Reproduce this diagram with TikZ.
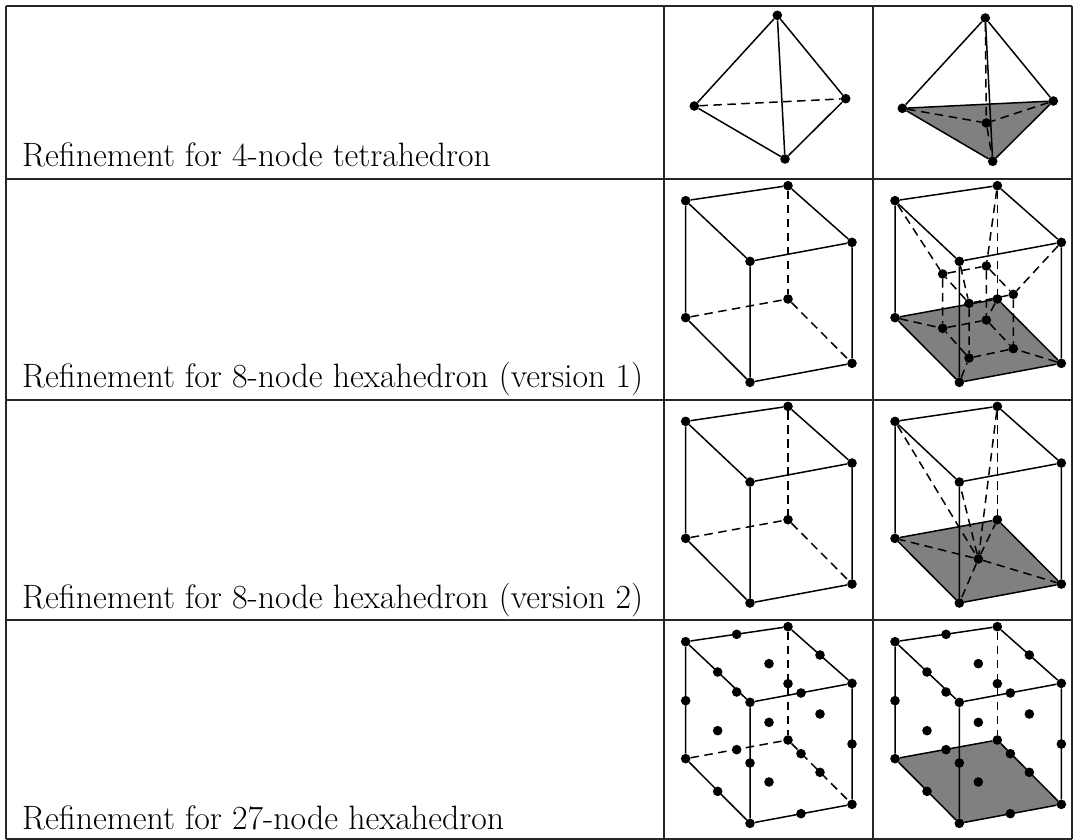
\documentclass[tikz,border=0pt]{standalone}
\usepackage{fontspec}
\usetikzlibrary{backgrounds}
\tikzset{
  dot/.style={circle,fill=black,inner sep=0pt,minimum size=9.6pt},
  edge/.style={line width=1.5pt,black},
  hid/.style={line width=1.5pt,black,dash pattern=on 8.5pt off 5.5pt},
  rule/.style={line width=1.2pt,black!85},
  face/.style={fill=black!50},
  lab/.style={anchor=base west,inner sep=0pt,font=\fontsize{33.8}{38}\selectfont}
}
\newcommand{\cubenodes}[1]{%
  \node[dot] (#1A) at (25.67,30.67) {};
  \node[dot] (#1B) at (128,15.67) {};
  \node[dot] (#1C) at (192,72.33) {};
  \node[dot] (#1D) at (90,91.33) {};
  \node[dot] (#1E) at (25.67,147.67) {};
  \node[dot] (#1F) at (128,129) {};
  \node[dot] (#1G) at (192,193.33) {};
  \node[dot] (#1H) at (90,212.33) {};
}
\newcommand{\cubeedges}[1]{%
  \draw[edge] (#1A)--(#1B) (#1B)--(#1C) (#1C)--(#1D) (#1D)--(#1A)
              (#1A)--(#1E) (#1C)--(#1G) (#1D)--(#1H) (#1E)--(#1H) (#1H)--(#1G);
  \draw[hid] (#1B)--(#1F);
}
\newcommand{\cubeplain}[1]{%
  \cubenodes{#1}\cubeedges{#1}
  \draw[hid] (#1E)--(#1F) (#1F)--(#1G);
}
\newcommand{\cubegrey}[1]{%
  \cubenodes{#1}
  \begin{pgfonlayer}{background}
    \fill[face] (#1E.center)--(#1F.center)--(#1G.center)--(#1H.center)--cycle;
  \end{pgfonlayer}
  \cubeedges{#1}
  \draw[edge] (#1E)--(#1F) (#1F)--(#1G);
}
\newcommand{\extradots}[1]{%
  \foreach \n/\x/\y in {a/230/73,b/480/135,c/327/161,d/173/186,e/230/246,f/423/249,g/384/221,
    h/77/272,i/327/337,j/480/312,k/173/362,l/576/402,m/230/419,n/423/431,o/270/459,p/480/487,
    q/327/516,r/173/544,s/423/611}
    {\node[dot] (#1\n) at ({\x/3},{\y/3-1}) {};}
}
\begin{document}
\begin{tikzpicture}[x=1pt,y=-1pt]
\useasboundingbox (0,0) rectangle (1073,840);
\begin{pgfonlayer}{background}
  \fill[white] (0,0) rectangle (1073,840);
\end{pgfonlayer}
% table
\coordinate (tl) at (6,6); \coordinate (tr) at (1072,6);
\coordinate (r1l) at (6,179); \coordinate (r1r) at (1072,179);
\coordinate (r2l) at (6,400); \coordinate (r2r) at (1072,400);
\coordinate (r3l) at (6,620); \coordinate (r3r) at (1072,620);
\coordinate (bl) at (6,839); \coordinate (br) at (1072,839);
\coordinate (c1t) at (664,6); \coordinate (c1b) at (664,839);
\coordinate (c2t) at (873,6); \coordinate (c2b) at (873,839);
\draw[rule] (tl)--(tr) (r1l)--(r1r) (r2l)--(r2r) (r3l)--(r3r) (bl)--(br)
  (tl)--(bl) (tr)--(br) (c1t)--(c1b) (c2t)--(c2b);
% labels
\node[lab] (l1) at (22,166) {Refinement for 4-node tetrahedron};
\node[lab] (l2) at (22,387) {Refinement for 8-node hexahedron (version 1)};
\node[lab] (l3) at (22,608) {Refinement for 8-node hexahedron (version 2)};
\node[lab] (l4) at (22,829) {Refinement for 27-node hexahedron};
% tetra 1
\node[dot] (t1T) at (777.3,15.3) {};
\node[dot] (t1L) at (694.3,106) {};
\node[dot] (t1R) at (845.7,98.7) {};
\node[dot] (t1B) at (785,159) {};
\draw[edge] (t1T)--(t1L) (t1T)--(t1R) (t1T)--(t1B) (t1L)--(t1B) (t1R)--(t1B);
\draw[hid] (t1L)--(t1R);
% tetra 2
\node[dot] (t2T) at (985.3,18) {};
\node[dot] (t2L) at (902.3,108.3) {};
\node[dot] (t2R) at (1053.3,101) {};
\node[dot] (t2B) at (992.7,161.3) {};
\node[dot] (t2C) at (986.3,123) {};
\begin{pgfonlayer}{background}
  \fill[face] (t2L.center)--(t2R.center)--(t2B.center)--cycle;
\end{pgfonlayer}
\draw[edge] (t2T)--(t2L) (t2T)--(t2R) (t2T)--(t2B) (t2L)--(t2B) (t2R)--(t2B) (t2L)--(t2R);
\draw[hid] (t2T)--(t2C) (t2L)--(t2C) (t2R)--(t2C) (t2C)--(t2B);
% row 2
\begin{scope}[shift={(660,170)}]
  \cubeplain{p}
\end{scope}
\begin{scope}[shift={(869.33,170)}]
  \cubegrey{q}
  \foreach \n/\x/\y in {1/220/312,2/351/288,3/432/373,4/299/400,5/220/475,6/351/450,7/432/536,8/299/564}
    {\node[dot] (qi\n) at ({\x/3},{\y/3}) {};}
  \draw[hid] (qA)--(qi1) (qB)--(qi2) (qC)--(qi3) (qD)--(qi4)
    (qE)--(qi5) (qF)--(qi6) (qG)--(qi7) (qH)--(qi8)
    (qi1)--(qi2) (qi2)--(qi3) (qi3)--(qi4) (qi4)--(qi1)
    (qi5)--(qi6) (qi6)--(qi7) (qi7)--(qi8) (qi8)--(qi5)
    (qi1)--(qi5) (qi2)--(qi6) (qi3)--(qi7) (qi4)--(qi8);
\end{scope}
% row 3
\begin{scope}[shift={(660,390.7)}]
  \cubeplain{u}
\end{scope}
\begin{scope}[shift={(869.33,390.7)}]
  \cubegrey{v}
  \node[dot] (vC) at (109,168.3) {};
  \draw[hid] (vA)--(vC) (vB)--(vC) (vC)--(vD) (vC)--(vE) (vC)--(vF) (vC)--(vG) (vC)--(vH);
\end{scope}
% row 4
\begin{scope}[shift={(660,611)}]
  \cubeplain{w}
  \extradots{w}
\end{scope}
\begin{scope}[shift={(869.33,611)}]
  \cubegrey{z}
  \extradots{z}
\end{scope}
\end{tikzpicture}
\end{document}
